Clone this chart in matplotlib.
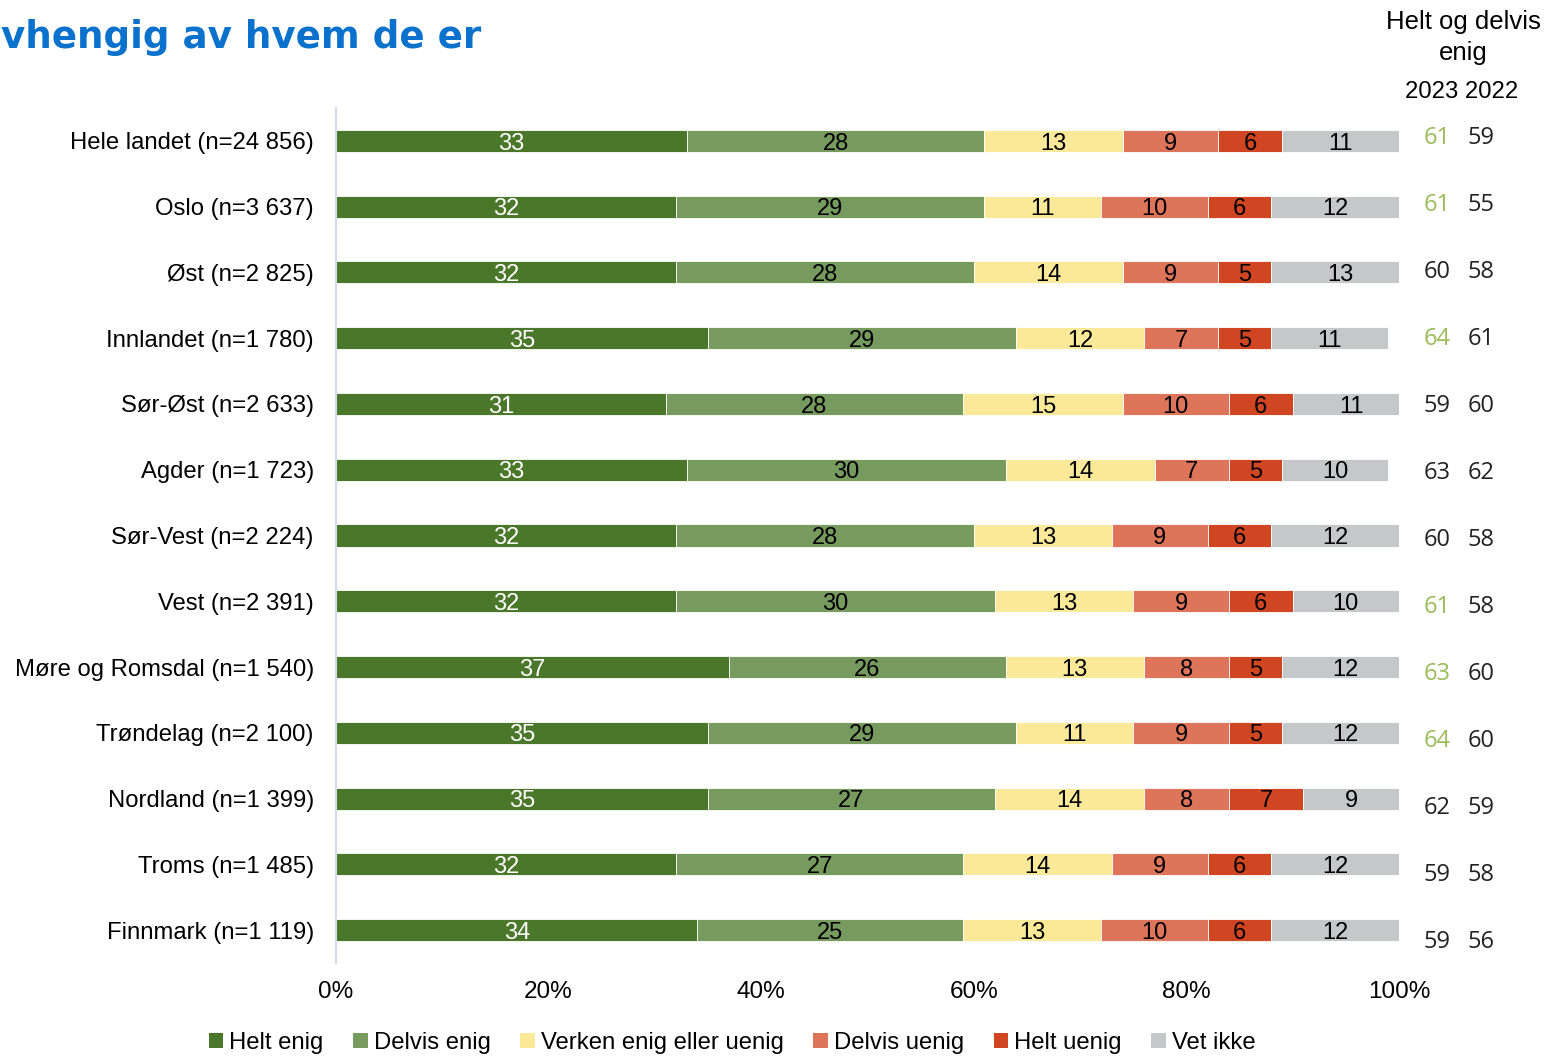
import matplotlib.pyplot as plt
import numpy as np
from matplotlib.patches import Patch

plt.rcParams['font.family'] = ['Liberation Sans', 'DejaVu Sans']

regioner = ['Hele landet (n=24 856)', 'Oslo (n=3 637)', 'Øst (n=2 825)', 'Innlandet (n=1 780)',
            'Sør-Øst (n=2 633)', 'Agder (n=1 723)', 'Sør-Vest (n=2 224)', 'Vest (n=2 391)',
            'Møre og Romsdal (n=1 540)', 'Trøndelag (n=2 100)', 'Nordland (n=1 399)',
            'Troms (n=1 485)', 'Finnmark (n=1 119)']
kategorier = ['Helt enig', 'Delvis enig', 'Verken enig eller uenig', 'Delvis uenig', 'Helt uenig', 'Vet ikke']
helt_enig = [33, 32, 32, 35, 31, 33, 32, 32, 37, 35, 35, 32, 34]
delvis_enig = [28, 29, 28, 29, 28, 30, 28, 30, 26, 29, 27, 27, 25]
verken = [13, 11, 14, 12, 15, 14, 13, 13, 13, 11, 14, 14, 13]
delvis_uenig = [9, 10, 9, 7, 10, 7, 9, 9, 8, 9, 8, 9, 10]
helt_uenig = [6, 6, 5, 5, 6, 5, 6, 6, 5, 5, 7, 6, 6]
vet_ikke = [11, 12, 13, 11, 11, 10, 12, 10, 12, 12, 9, 12, 12]
enig_2023 = [61, 61, 60, 64, 59, 63, 60, 61, 63, 64, 62, 59, 59]
enig_2022 = [59, 55, 58, 61, 60, 62, 58, 58, 60, 60, 59, 58, 56]
# grønn 2023-verdi = markert endring
markert = [True, True, False, True, False, False, False, True, True, True, False, False, False]

farger = ['#4A7729', '#779A5E', '#FBE99A', '#DE7459', '#D04522', '#C6C7C9']
tekstfarger = ['white', 'black', 'black', 'black', 'black', 'black']
serier = [helt_enig, delvis_enig, verken, delvis_uenig, helt_uenig, vet_ikke]

W, H = 1550, 1056
fig = plt.figure(figsize=(W / 100, H / 100), dpi=100)
ax = fig.add_axes([336 / W, 1 - 963 / H, (1399 - 336) / W, (963 - 108) / H])

y = np.arange(len(regioner))
venstre = np.zeros(len(regioner))
for serie, farge, tf in zip(serier, farger, tekstfarger):
    verdier = np.array(serie, dtype=float)
    ax.barh(y, verdier, left=venstre, height=0.335, color=farge, edgecolor='white', linewidth=0.6)
    for yi, v, l in zip(y, verdier, venstre):
        ax.text(l + v / 2, yi + 0.04, f'{int(v)}', ha='center', va='center', color=tf, fontsize=17)
    venstre += verdier

ax.set_ylim(12.5, -0.5)
ax.set_xlim(0, 100)
ax.set_xticks(np.arange(0, 101, 20))
ax.set_xticklabels([f'{t}%' for t in range(0, 101, 20)], fontsize=17.5)
ax.set_yticks(y)
ax.set_yticklabels(regioner, fontsize=17.2)
ax.tick_params(axis='both', length=0)
ax.tick_params(axis='x', pad=13)
ax.tick_params(axis='y', pad=16)
for s in ['top', 'right', 'bottom']:
    ax.spines[s].set_visible(False)
ax.spines['left'].set_color('#D3DCEA')
ax.spines['left'].set_linewidth(1.5)

# høyre kolonne
fig.text(1463 / W, 1 - 22 / H, 'Helt og delvis', ha='center', va='center', fontsize=18.5)
fig.text(1463 / W, 1 - 53 / H, 'enig', ha='center', va='center', fontsize=18.5)
fig.text(1462 / W, 1 - 92 / H, '2023 2022', ha='center', va='center', fontsize=17.2)
for i in range(len(regioner)):
    yy = 1 - (138 + i * 67) / H
    fig.text(1437 / W, yy, str(enig_2023[i]), ha='center', va='center', fontsize=17,
             color='#9BBB59' if markert[i] else '#222222', family=['Open Sans', 'DejaVu Sans'])
    fig.text(1481 / W, yy, str(enig_2022[i]), ha='center', va='center', fontsize=17,
             color='#222222', family=['Open Sans', 'DejaVu Sans'])

# tittel (avkuttet i originalen, bare synlig del)
fig.text(1 / W, 1 - 37 / H, 'vhengig av hvem de er', ha='left', va='center',
         fontsize=26.8, fontweight='bold', color='#0A72CC', family=['DejaVu Sans'])

handles = [Patch(facecolor=f, edgecolor='none') for f in farger]
fig.legend(handles, kategorier, loc='center', bbox_to_anchor=(732 / W, 1 - 1043 / H), ncol=6,
           frameon=False, fontsize=17.2, handlelength=0.6, handleheight=0.6, handletextpad=0.25,
           columnspacing=1.25)

fig.savefig('out.png', dpi=100)
